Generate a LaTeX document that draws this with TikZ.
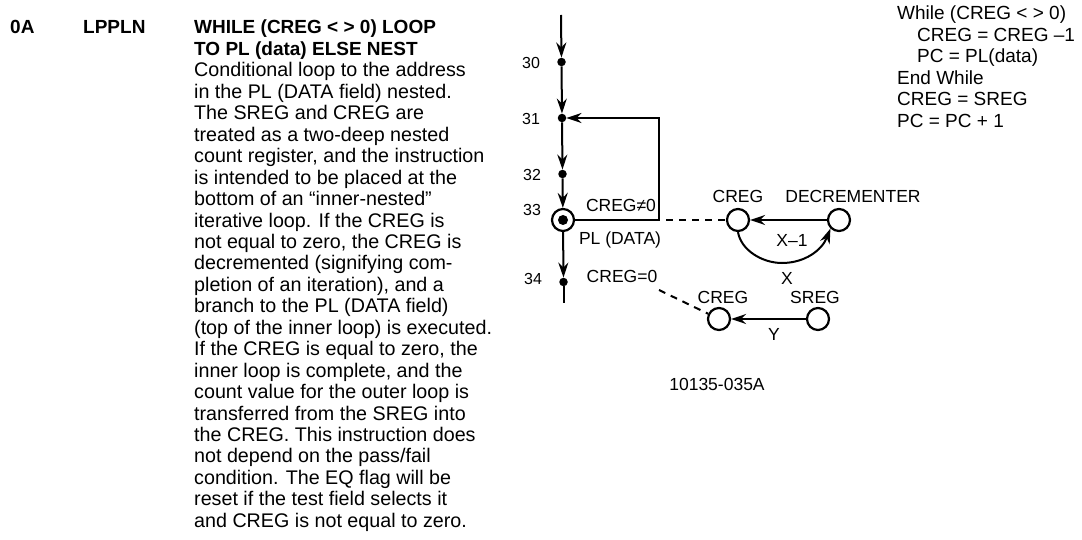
\documentclass[tikz,border=0pt]{standalone}
\usepackage{fontspec}
\setmainfont{Liberation Sans}
\usetikzlibrary{arrows.meta}
\newcommand{\headfont}{\fontsize{19}{21.45}\selectfont\bfseries}
\tikzset{
    txt/.style={inner sep=0pt, font=\fontsize{17.5}{21.4}\selectfont},
    num/.style={inner sep=0pt, font=\fontsize{16}{20}\selectfont},
    block/.style={inner sep=0pt, anchor=north west, align=left, font=\fontsize{19}{21.45}\selectfont},
    para/.style={block, font=\fontsize{19.7}{21.45}\selectfont},
    dot/.style={circle, fill=black, inner sep=0pt, minimum size=8.5pt},
    reg/.style={circle, draw, line width=2.2pt, fill=white, inner sep=0pt, minimum size=22pt},
    flow/.style={line width=2pt, -{Stealth[length=15pt,width=10pt]}},
    wire/.style={line width=2pt},
    link/.style={line width=2pt, dash pattern=on 7pt off 6pt}
}
\begin{document}
\begin{tikzpicture}[x=1pt,y=-1pt]
    \useasboundingbox (0,0) rectangle (1082,540);

    % left text
    \node[block] (code) at (10,20) {\textbf{0A}};
    \node[block] (name) at (83,20) {\textbf{LPPLN}};
    \node[para] (desc) at (194,20) {{\headfont WHILE (CREG < > 0) LOOP}\\
        {\headfont TO PL (data) ELSE NEST}\\
        Conditional loop to the address\\
        in the PL (DATA field) nested.\\
        The SREG and CREG are\\
        treated as a two-deep nested\\
        count register, and the instruction\\
        is intended to be placed at the\\
        bottom of an ``inner-nested''\\
        iterative loop. If the CREG is\\
        not equal to zero, the CREG is\\
        decremented (signifying com-\\
        pletion of an iteration), and a\\
        branch to the PL (DATA field)\\
        (top of the inner loop) is executed.\\
        If the CREG is equal to zero, the\\
        inner loop is complete, and the\\
        count value for the outer loop is\\
        transferred from the SREG into\\
        the CREG. This instruction does\\
        not depend on the pass/fail\\
        condition. The EQ flag will be\\
        reset if the test field selects it\\
        and CREG is not equal to zero.};

    % top right text
    \node[block] (pseudo) at (897,6) {While (CREG < > 0)\\
        \hspace{20pt}CREG = CREG --1\\
        \hspace{20pt}PC = PL(data)\\
        End While\\
        CREG = SREG\\
        PC = PC + 1};

    % main line
    \coordinate (top) at (561,15);
    \node[dot] (n30) at (561.5,62) {};
    \node[dot] (n31) at (562,118) {};
    \node[dot] (n32) at (562.5,174) {};
    \node[reg] (n33) at (563,220) {};
    \node[dot, minimum size=10pt] (n33c) at (563,220) {};
    \node[dot] (n34) at (563.5,282) {};
    \coordinate (bottom) at (563.5,303);

    \draw[flow] (top) -- (n30);
    \draw[flow] (n30) -- (n31);
    \draw[flow] (n31) -- (n32);
    \draw[flow] (n32) -- (n33);
    \draw[flow] (n33) -- (n34);
    \draw[wire] (n34) -- (bottom);

    % loop back
    \coordinate (cornerb) at (659,220);
    \coordinate (cornert) at (659,118);
    \draw[flow] (n33) -- (cornerb) -- (cornert) -- (n31);

    \node[num] (l30) at (531,63) {30};
    \node[num] (l31) at (531,119) {31};
    \node[num] (l32) at (532,175) {32};
    \node[num] (l33) at (532,210) {33};
    \node[num] (l34) at (533,279) {34};
    \node[txt] (lne) at (621,205) {CREG≠0};
    \node[txt] (lpl) at (620,240) {PL (DATA)};
    \node[txt] (leq) at (622,276) {CREG=0};

    % registers
    \node[reg] (creg) at (738,220) {};
    \node[reg] (decr) at (839,220) {};
    \node[reg] (cregb) at (719,319) {};
    \node[reg] (sreg) at (818,319) {};

    \node[txt] (lcreg) at (738,196) {CREG};
    \node[txt] (ldecr) at (853,196) {DECREMENTER};
    \node[txt] (lcregb) at (723,297) {CREG};
    \node[txt] (lsreg) at (815,297) {SREG};
    \node[txt] (lx1) at (792,240) {X--1};
    \node[txt] (lx) at (787,278) {X};
    \node[txt] (ly) at (774,334) {Y};
    \node[txt] (fig) at (717,384) {10135-035A};

    \draw[flow] (decr) -- (creg);
    \draw[flow] (creg.south) .. controls (741,250) and (762,263) .. (782,263)
        .. controls (805,263) and (822,250) .. (decr.south west);
    \draw[flow] (sreg) -- (cregb);

    % dashed links
    \coordinate (lea) at (666,220);
    \coordinate (leb) at (659,290);
    \draw[link] (lea) -- (creg);
    \draw[link] (leb) -- (cregb);
\end{tikzpicture}
\end{document}
